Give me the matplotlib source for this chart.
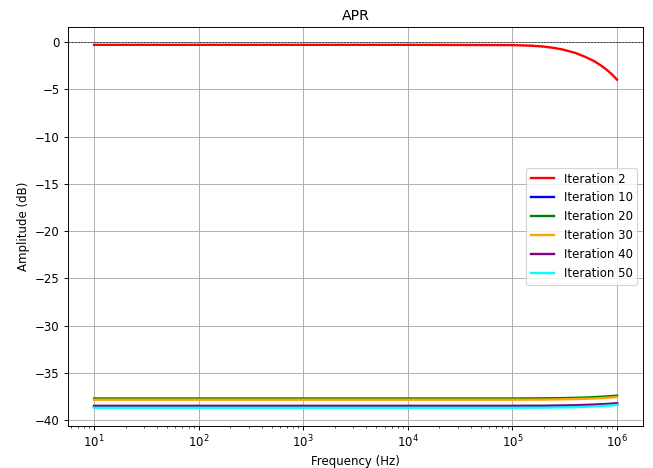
import matplotlib
matplotlib.use("Agg")
import matplotlib.pyplot as plt

freq = [10, 100, 1e3, 1e4, 1e5, 1.5e5, 2e5, 2.5e5, 3e5, 4e5, 5e5, 6e5, 7e5, 8e5, 9e5, 1e6]

it2 = [-0.29, -0.29, -0.29, -0.29, -0.32, -0.38, -0.48, -0.62, -0.78, -1.15, -1.58, -2.00, -2.47, -2.95, -3.45, -3.98]
it10 = [-38.60, -38.60, -38.60, -38.60, -38.60, -38.59, -38.59, -38.57, -38.56, -38.53, -38.50, -38.46, -38.42, -38.38, -38.34, -38.30]
it20 = [-37.72, -37.72, -37.72, -37.72, -37.72, -37.71, -37.70, -37.69, -37.68, -37.65, -37.62, -37.58, -37.54, -37.50, -37.46, -37.42]
it30 = [-37.85, -37.85, -37.85, -37.85, -37.85, -37.84, -37.84, -37.82, -37.81, -37.78, -37.75, -37.72, -37.68, -37.64, -37.60, -37.56]
it40 = [-38.50, -38.50, -38.50, -38.50, -38.50, -38.49, -38.49, -38.47, -38.46, -38.44, -38.40, -38.37, -38.33, -38.30, -38.26, -38.22]
it50 = [-38.70, -38.70, -38.70, -38.70, -38.70, -38.69, -38.69, -38.67, -38.66, -38.63, -38.60, -38.56, -38.52, -38.48, -38.44, -38.40]

series = [("Iteration 2", it2, "red"),
          ("Iteration 10", it10, "blue"),
          ("Iteration 20", it20, "green"),
          ("Iteration 30", it30, "orange"),
          ("Iteration 40", it40, "purple"),
          ("Iteration 50", it50, "cyan")]

DPI = 85
fig, ax = plt.subplots(figsize=(653 / DPI, 468 / DPI), dpi=DPI)
for label, vals, color in series:
    ax.plot(freq, vals, color=color, linewidth=2, label=label)
ax.set_xscale("log")
ax.axhline(0, color="black", linestyle="--", linewidth=0.5)
ax.grid(True)
ax.set_title("APR")
ax.set_xlabel("Frequency (Hz)")
ax.set_ylabel("Amplitude (dB)")
ax.legend(loc="center right")
fig.subplots_adjust(left=0.104, right=0.985, top=0.943, bottom=0.090)
fig.savefig("out.png", dpi=DPI)
